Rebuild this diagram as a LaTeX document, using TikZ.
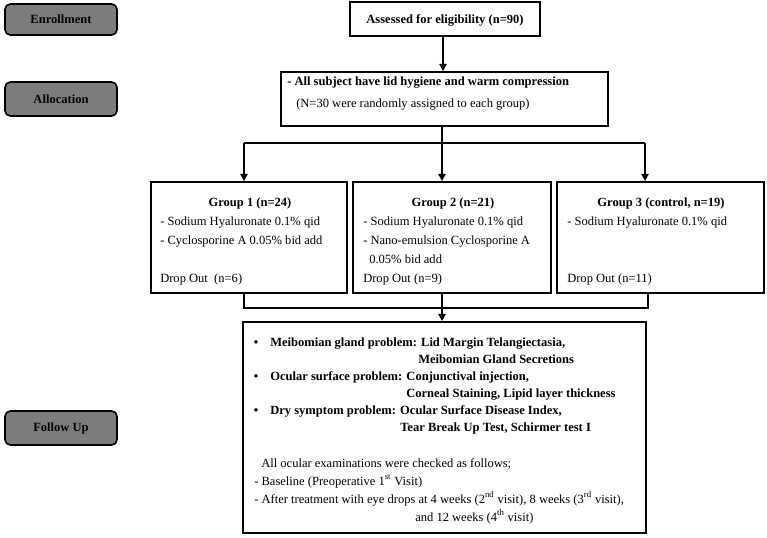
\documentclass[tikz,border=0pt]{standalone}
\usepackage{fontspec}
\setmainfont{Liberation Serif}
\usetikzlibrary{arrows.meta,fit}
\definecolor{labgray}{RGB}{124,124,124}
\tikzset{
  box/.style={draw=black,line width=1.3pt,inner sep=0pt},
  labbox/.style={draw=black,line width=1.2pt,fill=labgray,rounded corners=4pt,inner sep=0pt},
  txt/.style={inner sep=0pt,font=\fontsize{9.4}{11}\selectfont},
  btxt/.style={txt,font=\fontsize{9.4}{11}\selectfont\bfseries},
  conn/.style={line width=1.3pt},
  arr/.style={conn,-{Triangle[width=5.5pt,length=5.5pt]}}
}
\begin{document}
\begin{tikzpicture}[x=0.75pt,y=-0.75pt]
\useasboundingbox (0,0) rectangle (767,538);

% stage labels
\node[labbox,fit={(5,4) (117,35)}] (enr) {};
\node[btxt] (enrt) at (enr.center) {Enrollment};
\node[labbox,fit={(5,82) (117,116)}] (alc) {};
\node[btxt] (alct) at (alc.center) {Allocation};
\node[labbox,fit={(5,411) (117,445)}] (fup) {};
\node[btxt] (fupt) at (fup.center) {Follow Up};

% assessed
\node[box,fit={(350,2) (540,36)}] (ass) {};
\node[btxt,anchor=base] (asst) at (445,24) {Assessed for eligibility (n=90)};

% allocation
\node[box,fit={(281,72) (608,126)}] (all) {};
\node[btxt,anchor=base west] (all1) at (287,86) {- All subject have lid hygiene and warm compression};
\node[txt,anchor=base west] (all2) at (296,108) {(N=30 were randomly assigned to each group)};

% groups
\node[box,fit={(151,182) (347,293)}] (g1) {};
\node[box,fit={(353,182) (551,293)}] (g2) {};
\node[box,fit={(557,182) (764,293)}] (g3) {};

\node[btxt,anchor=base] (g1h) at (250,207) {Group 1 (n=24)};
\node[txt,anchor=base west] (g1a) at (160,226) {- Sodium Hyaluronate 0.1\% qid};
\node[txt,anchor=base west] (g1b) at (160,245) {- Cyclosporine A 0.05\% bid add};
\node[txt,anchor=base west] (g1d) at (160,282) {Drop Out\ \ (n=6)};

\node[btxt,anchor=base] (g2h) at (453,207) {Group 2 (n=21)};
\node[txt,anchor=base west] (g2a) at (363,226) {- Sodium Hyaluronate 0.1\% qid};
\node[txt,anchor=base west] (g2b) at (363,245) {- Nano-emulsion Cyclosporine A};
\node[txt,anchor=base west] (g2c) at (369,263) {0.05\% bid add};
\node[txt,anchor=base west] (g2d) at (363,282) {Drop Out (n=9)};

\node[btxt,anchor=base] (g3h) at (661,207) {Group 3 (control, n=19)};
\node[txt,anchor=base west] (g3a) at (567,226) {- Sodium Hyaluronate 0.1\% qid};
\node[txt,anchor=base west] (g3d) at (567,282) {Drop Out (n=11)};

% follow-up box
\node[box,fit={(243,322) (646,533)}] (fol) {};
\node[btxt,anchor=base] (b1) at (256,346) {\textbullet};
\node[btxt,anchor=base west] (f1) at (270,346) {Meibomian gland problem: Lid Margin Telangiectasia,};
\node[btxt,anchor=base west] (f2) at (418,363) {Meibomian Gland Secretions};
\node[btxt,anchor=base] (b2) at (256,380) {\textbullet};
\node[btxt,anchor=base west] (f3) at (270,380) {Ocular surface problem: Conjunctival injection,};
\node[btxt,anchor=base west] (f4) at (406,397) {Corneal Staining, Lipid layer thickness};
\node[btxt,anchor=base] (b3) at (256,414) {\textbullet};
\node[btxt,anchor=base west] (f5) at (270,414) {Dry symptom problem: Ocular Surface Disease Index,};
\node[btxt,anchor=base west] (f6) at (400,431) {Tear Break Up Test, Schirmer test I};
\node[txt,anchor=base west] (f7) at (261,467) {All ocular examinations were checked as follows;};
\node[txt,anchor=base west] (f8) at (254,485) {- Baseline (Preoperative 1\textsuperscript{st} Visit)};
\node[txt,anchor=base west] (f9) at (254,503) {- After treatment with eye drops at 4 weeks (2\textsuperscript{nd} visit), 8 weeks (3\textsuperscript{rd} visit),};
\node[txt,anchor=base west] (f10) at (415,521) {and 12 weeks (4\textsuperscript{th} visit)};

% connectors
\coordinate (ax) at (443,0);
\draw[arr] (ax |- ass.south) -- (ax |- all.north);
\coordinate (s) at (442,143);
\coordinate (c1) at (244,143);
\coordinate (c3) at (645,143);
\draw[conn] (s |- all.south) -- (s);
\draw[conn] (c1) -- (c3);
\draw[arr] (c1) -- (c1 |- g1.north);
\draw[arr] (s) -- (s |- g2.north);
\draw[arr] (c3) -- (c3 |- g3.north);

\coordinate (m1) at (244,308);
\coordinate (m3) at (648,308);
\coordinate (m2) at (442,308);
\draw[conn] (m1 |- g1.south) -- (m1) -- (m3) -- (m3 |- g3.south);
\draw[conn] (m2 |- g2.south) -- (m2);
\draw[arr] (m2) -- (m2 |- fol.north);
\end{tikzpicture}
\end{document}
